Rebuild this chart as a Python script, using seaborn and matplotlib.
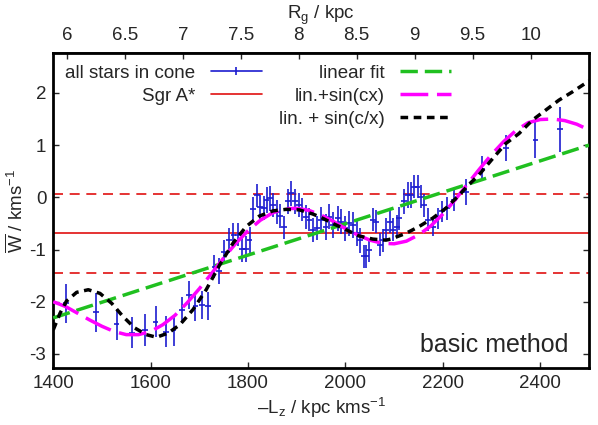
import matplotlib
matplotlib.use("Agg")
import matplotlib.pyplot as plt
from matplotlib.lines import Line2D
import seaborn as sns

# data: mean W per angular-momentum bin
lz = [1427, 1487, 1530, 1561, 1588, 1610, 1631, 1647, 1665, 1679, 1692, 1705,
      1718, 1731, 1740, 1751, 1761, 1770, 1780, 1787, 1796, 1803, 1810, 1818,
      1825, 1832, 1838, 1845, 1852, 1859, 1866, 1874, 1882, 1889, 1896, 1904,
      1911, 1919, 1926, 1934, 1941, 1949, 1959, 1967, 1975, 1984, 1991, 2000,
      2008, 2015, 2023, 2030, 2037, 2043, 2049, 2056, 2063, 2071, 2076, 2083,
      2091, 2098, 2105, 2110, 2121, 2128, 2134, 2141, 2148, 2155, 2162, 2170,
      2180, 2189, 2198, 2209, 2223, 2247, 2281, 2329, 2390, 2440]
w_mean = [-2.03, -2.20, -2.43, -2.59, -2.54, -2.38, -2.57, -2.55, -2.15, -1.87,
          -2.09, -2.06, -2.08, -1.33, -1.41, -1.04, -0.82, -0.72, -0.72, -0.99,
          -0.99, -0.82, -0.23, 0.04, -0.18, -0.21, -0.05, -0.02, -0.15, -0.28,
          -0.36, -0.57, -0.08, 0.08, -0.08, -0.15, -0.24, -0.37, -0.43, -0.63,
          -0.59, -0.43, -0.56, -0.37, -0.53, -0.40, -0.47, -0.59, -0.50, -0.53,
          -0.69, -0.82, -1.13, -1.13, -1.01, -0.43, -0.47, -0.91, -0.82, -0.62,
          -0.47, -0.62, -0.56, -0.40, -0.08, 0.04, 0.04, 0.20, 0.20, 0.01,
          -0.15, -0.43, -0.56, -0.40, -0.27, -0.21, -0.05, 0.11, 0.55, 0.94,
          1.10, 1.30]
w_err = [0.37, 0.37, 0.30, 0.30, 0.30, 0.29, 0.29, 0.29, 0.25, 0.26, 0.27, 0.27,
         0.27, 0.22, 0.25, 0.22, 0.24, 0.23, 0.22, 0.24, 0.24, 0.25, 0.24, 0.22,
         0.23, 0.23, 0.25, 0.24, 0.23, 0.23, 0.23, 0.22, 0.23, 0.24, 0.23, 0.23,
         0.22, 0.23, 0.22, 0.23, 0.23, 0.24, 0.25, 0.24, 0.24, 0.24, 0.24, 0.24,
         0.24, 0.24, 0.24, 0.24, 0.22, 0.22, 0.22, 0.22, 0.22, 0.22, 0.22, 0.22,
         0.22, 0.22, 0.22, 0.22, 0.24, 0.25, 0.25, 0.22, 0.22, 0.22, 0.22, 0.22,
         0.19, 0.20, 0.20, 0.22, 0.22, 0.25, 0.24, 0.25, 0.35, 0.43]
lz_err = 6

# Sgr A* reference value and its band
sgr_w = -0.69
sgr_band = [0.07, -1.45]

# fitted curves
lin_x = [1400, 2500]
lin_y = [-2.31, 1.00]

sincx_x = [1400, 1425, 1450, 1475, 1500, 1525, 1550, 1575, 1600, 1625, 1650,
           1675, 1700, 1725, 1750, 1775, 1800, 1825, 1850, 1875, 1900, 1925,
           1950, 1975, 2000, 2025, 2050, 2075, 2100, 2125, 2150, 2175, 2200,
           2225, 2250, 2275, 2300, 2325, 2350, 2375, 2400, 2425, 2450, 2475, 2500]
sincx_y = [-2.00, -2.09, -2.22, -2.35, -2.47, -2.57, -2.63, -2.63, -2.57, -2.44,
           -2.26, -2.02, -1.75, -1.46, -1.16, -0.88, -0.64, -0.44, -0.30, -0.22,
           -0.21, -0.25, -0.34, -0.46, -0.60, -0.72, -0.82, -0.88, -0.89, -0.84,
           -0.72, -0.55, -0.32, -0.05, 0.25, 0.54, 0.82, 1.07, 1.28, 1.43, 1.49,
           1.50, 1.47, 1.40, 1.29]

sinox_x = [1400, 1414, 1427, 1448, 1472, 1496, 1520, 1543, 1567, 1591, 1612,
           1636, 1660, 1687, 1714, 1742, 1769, 1796, 1823, 1851, 1878, 1905,
           1933, 1953, 1974, 2001, 2028, 2056, 2083, 2093, 2124, 2151, 2179,
           2206, 2233, 2254, 2274, 2302, 2329, 2356, 2384, 2411, 2438, 2466, 2500]
sinox_y = [-2.54, -2.22, -1.99, -1.82, -1.77, -1.84, -2.03, -2.28, -2.50, -2.63,
           -2.68, -2.60, -2.44, -2.15, -1.77, -1.29, -0.88, -0.56, -0.36, -0.26,
           -0.23, -0.24, -0.32, -0.40, -0.50, -0.62, -0.74, -0.80, -0.82, -0.80,
           -0.69, -0.56, -0.40, -0.21, 0.04, 0.25, 0.43, 0.74, 1.03, 1.22, 1.48,
           1.67, 1.86, 2.02, 2.23]

v_circ = 238  # R_g = -L_z / v_c

sns.set_theme(style="ticks")
plt.rcParams["font.family"] = ["Liberation Sans", "DejaVu Sans"]
plt.rcParams["mathtext.fontset"] = "custom"
plt.rcParams["mathtext.rm"] = "Liberation Sans"
plt.rcParams["mathtext.it"] = "Liberation Sans"
plt.rcParams["axes.unicode_minus"] = False

blue = "#1c1cd0"
red = "#e01010"
green = "#20c020"
magenta = "#ff00ff"

fig = plt.figure(figsize=(5.98, 4.25), dpi=100)
ax = fig.add_axes([0.089, 0.134, 0.896, 0.742])

ax.errorbar(lz, w_mean, yerr=w_err, xerr=lz_err, fmt="none",
            ecolor=blue, elinewidth=1.2, capsize=0, zorder=2)

ax.axhline(sgr_w, color=red, lw=1.2, zorder=1)
for yb in sgr_band:
    ax.axhline(yb, color=red, lw=1.2, linestyle=(0, (6, 4)), zorder=1)

sns.lineplot(x=lin_x, y=lin_y, ax=ax, color=green, lw=2.5,
             linestyle=(0, (5, 2)), zorder=3)
sns.lineplot(x=sincx_x, y=sincx_y, ax=ax, color=magenta, lw=2.5,
             linestyle=(0, (8, 2.5)), zorder=4)
sns.lineplot(x=sinox_x, y=sinox_y, ax=ax, color="black", lw=2.5,
             linestyle=(0, (2.2, 1.6)), zorder=5)

ax.set_xlim(1400, 2500)
ax.set_ylim(-3.27, 2.77)
ax.set_xticks([1400, 1600, 1800, 2000, 2200, 2400])
ax.set_yticks([-3, -2, -1, 0, 1, 2])
ax.tick_params(direction="in", length=4.5, width=1, labelsize=13.5,
               right=True, top=False, pad=5)
for sp in ax.spines.values():
    sp.set_linewidth(2)
    sp.set_color("black")

ax.set_xlabel("–L$_\\mathrm{z}$ / kpc kms$^{-1}$", fontsize=13.5, labelpad=3)
ax.set_ylabel("$\\overline{\\mathrm{W}}$ / kms$^{-1}$", fontsize=13.5, labelpad=2)

top = ax.secondary_xaxis("top", functions=(lambda L: L / v_circ,
                                            lambda R: R * v_circ))
rg_ticks = [6, 6.5, 7, 7.5, 8, 8.5, 9, 9.5, 10]
top.set_xticks(rg_ticks)
top.set_xticklabels([f"{t:g}" for t in rg_ticks])
top.tick_params(direction="in", length=4.5, width=1, labelsize=13.5, pad=6)
top.set_xlabel("R$_\\mathrm{g}$ / kpc", fontsize=13.5, labelpad=6)

ax.text(0.962, 0.035, "basic method", transform=ax.transAxes,
        ha="right", va="bottom", fontsize=18)

handles = [
    Line2D([], [], color=blue, lw=1.2, marker="|", markersize=6,
           markeredgewidth=1.2),
    Line2D([], [], color=red, lw=1.2),
    Line2D([], [], linestyle="none"),
    Line2D([], [], color=green, lw=2.5, linestyle=(0, (5, 2))),
    Line2D([], [], color=magenta, lw=2.5, linestyle=(0, (8, 2.5))),
    Line2D([], [], color="black", lw=2.5, linestyle=(0, (2.2, 1.6))),
]
labels = ["all stars in cone", "Sgr A*", "", "linear fit", "lin.+sin(cx)",
          "lin. + sin(c/x)"]
ax.legend(handles, labels, ncol=2, loc="upper left", frameon=False,
          markerfirst=False, fontsize=13.5, handlelength=2.75,
          handletextpad=0.8, columnspacing=0.9, labelspacing=0.3,
          borderaxespad=0.45, borderpad=0.2)

fig.savefig("out.png", dpi=100)
